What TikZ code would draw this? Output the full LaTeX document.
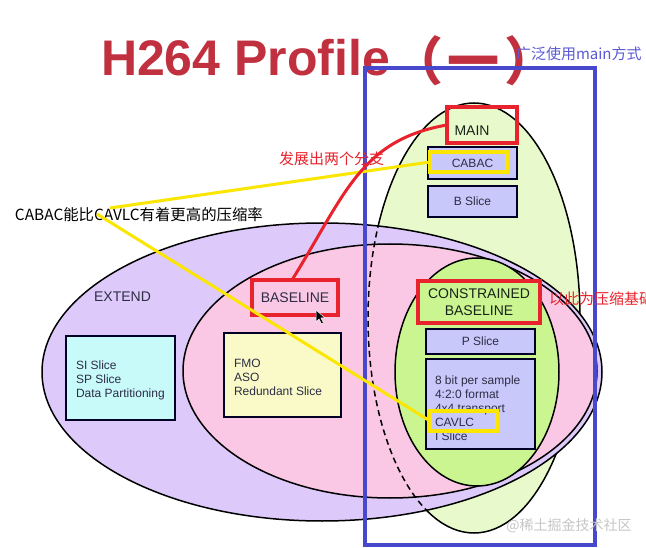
\documentclass[tikz,border=0pt]{standalone}
\usepackage{fontspec}
\setmainfont{Liberation Sans}
\newfontfamily\cjk{Noto Sans CJK SC}
\definecolor{cMain}{RGB}{232,250,204}
\definecolor{cExt}{RGB}{222,202,250}
\definecolor{cBase}{RGB}{250,200,228}
\definecolor{cCons}{RGB}{202,245,145}
\definecolor{cLav}{RGB}{200,200,250}
\definecolor{cCyan}{RGB}{200,250,250}
\definecolor{cYel}{RGB}{250,250,200}
\definecolor{cRed}{RGB}{232,35,45}
\definecolor{cYline}{RGB}{250,230,0}
\definecolor{cBlue}{RGB}{72,72,205}
\definecolor{cBlueTxt}{RGB}{90,90,215}
\definecolor{cTitle}{RGB}{192,48,62}
\definecolor{cTxt}{RGB}{45,45,70}
\definecolor{cDark}{RGB}{25,35,25}
\begin{document}
\begin{tikzpicture}[x=1pt,y=-1pt,
  every node/.style={inner sep=0pt, outer sep=0pt},
  ell/.style={draw=black, line width=1.5pt},
  box/.style={draw=black!85!blue, line width=1.5pt},
  redbox/.style={draw=cRed, line width=4pt},
  ybox/.style={draw=cYline, line width=3.5pt},
  lbl/.style={text=cTxt, font=\fontsize{12}{14}\selectfont},
  big/.style={text=cDark, font=\fontsize{14}{17}\selectfont},
  note/.style={font=\cjk\fontsize{15}{18}\selectfont},
  yline/.style={cYline, line width=3pt},
]
\useasboundingbox (0,0) rectangle (646,548);
\fill[white] (0,0) rectangle (646,548);

% MAIN ellipse
\path[ell, fill=cMain] (474,318) ellipse [x radius=106, y radius=215];
% EXTEND ellipse
\path[ell, fill=cExt] (322,372) ellipse [x radius=280, y radius=149];
% BASELINE ellipse
\path[ell, fill=cBase] (390,371) ellipse [x radius=207, y radius=127];
% hidden part of MAIN, dashed
\begin{scope}
\clip (322,372) ellipse [x radius=280, y radius=149];
\clip (0,0) rectangle (474,548);
\draw[line width=1.5pt, dash pattern=on 6pt off 4pt] (474,318) ellipse [x radius=106, y radius=215];
\end{scope}
% CONSTRAINED BASELINE ellipse
\path[ell, fill=cCons] (477,372) ellipse [x radius=82, y radius=114];

% MAIN contents
\node[big] (mainlbl) at (472,131) {MAIN};
\node[box, fill=cLav, minimum width=89pt, minimum height=32pt, lbl] (cabac) at (472.5,163) {CABAC};
\node[box, fill=cLav, minimum width=89pt, minimum height=31pt, lbl] (bslice) at (472.5,201.5) {B Slice};

% CONSTRAINED contents
\node[redbox, fill=cCons, minimum width=122pt, minimum height=42pt, big, align=center] (cons) at (479,302) {CONSTRAINED\\BASELINE};
\node[box, fill=cLav, minimum width=109pt, minimum height=25pt, lbl] (pslice) at (480.5,341.5) {P Slice};
\node[box, fill=cLav, minimum width=109pt, minimum height=90pt] (feat) at (480.5,404) {};
\node[lbl, anchor=north west, align=left] (feattxt) at (435,375.5) {8 bit per sample\\4:2:0 format\\4x4 transport\\CAVLC\\I Slice};

% BASELINE contents
\node[redbox, fill=cBase, minimum width=86pt, minimum height=35pt, big, text=cTxt] (blbox) at (295,297.5) {BASELINE};
\node[box, fill=cYel, minimum width=117pt, minimum height=84pt] (fmobox) at (282.5,375) {};
\node[lbl, anchor=north west, align=left] (fmotxt) at (234,358.7) {FMO\\ASO\\Redundant Slice};

% EXTEND contents
\node[big, text=cTxt] (extlbl) at (122.5,296.5) {EXTEND};
\node[box, fill=cCyan, minimum width=109pt, minimum height=84pt] (sibox) at (120.5,378) {};
\node[lbl, anchor=north west, align=left] (sitxt) at (76,360.5) {SI Slice\\SP Slice\\Data Partitioning};

% title
\node[anchor=base west, text=cTitle, font=\bfseries\fontsize{50}{60}\selectfont] (title) at (101,76) {H264 Profile};
\node[text=cTitle, font=\cjk\bfseries\fontsize{52}{60}\selectfont] (paren) at (474,61) {（\hspace{5pt}一\hspace{5pt}）};
\node[anchor=west, text=cBlueTxt, font=\cjk\fontsize{15}{18}\selectfont] (bluenote) at (516,54) {广泛使用main方式};

% blue frame
\node[draw=cBlue, line width=4.5pt, minimum width=230pt, minimum height=477pt] (focus) at (480,306.5) {};

% annotations
\node[ybox, minimum width=77pt, minimum height=20pt] (cabacy) at (468.5,162) {};
\node[ybox, minimum width=67pt, minimum height=20pt] (cavlc) at (463.5,421) {};
\node[redbox, minimum width=70pt, minimum height=36pt] (mainbox) at (482,125) {};
\node[note, anchor=west, font=\cjk\fontsize{15.4}{18}\selectfont] (cmp) at (15,215) {CABAC能比CAVLC有着更高的压缩率};
\coordinate (ya) at (110,208);
\coordinate (yb) at (97,214);
\draw[yline] (ya) -- (cabacy.west);
\draw[yline] (yb) -- (cavlc.west);
\node[note, text=cRed, anchor=west] (branch) at (279,159) {发展出两个分支};
\draw[cRed, line width=3pt] ([xshift=-3pt]blbox.north) .. controls (345,195) and (360,140) .. (mainbox.west);
\node[note, text=cRed, anchor=west] (basis) at (549,299) {以此为压缩基础};

% cursor
\draw[fill=black, draw=white, line width=0.5pt] (316,310) -- (316,322) -- (319,319) -- (321.5,324) -- (323.5,323) -- (321,318) -- (325,318) -- cycle;

% watermark
\node[font=\cjk\fontsize{14}{16}\selectfont, text=gray!45] (wm) at (569,526) {@稀土掘金技术社区};
\end{tikzpicture}
\end{document}
